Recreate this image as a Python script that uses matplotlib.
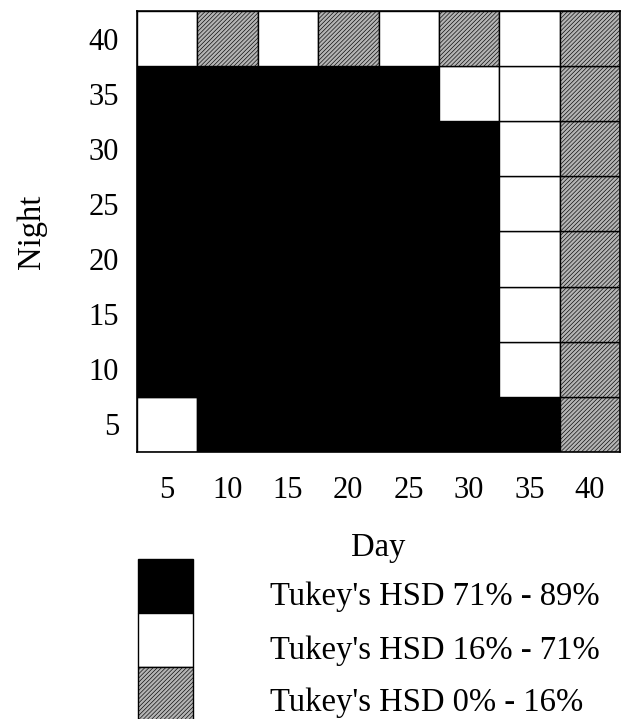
import numpy as np
import matplotlib
matplotlib.use('Agg')
import matplotlib.pyplot as plt
from matplotlib.patches import Rectangle

plt.rcParams['font.family'] = ['Liberation Serif', 'DejaVu Serif']
plt.rcParams['hatch.linewidth'] = 0.45

days = [5, 10, 15, 20, 25, 30, 35, 40]
nights = [5, 10, 15, 20, 25, 30, 35, 40]

# 0 = 71-89%, 1 = 16-71%, 2 = 0-16%  (rows are nights from 5 up to 40)
groups = [
    [1, 0, 0, 0, 0, 0, 0, 2],  # night 5
    [0, 0, 0, 0, 0, 0, 1, 2],  # night 10
    [0, 0, 0, 0, 0, 0, 1, 2],  # night 15
    [0, 0, 0, 0, 0, 0, 1, 2],  # night 20
    [0, 0, 0, 0, 0, 0, 1, 2],  # night 25
    [0, 0, 0, 0, 0, 0, 1, 2],  # night 30
    [0, 0, 0, 0, 0, 1, 1, 2],  # night 35
    [1, 2, 1, 2, 1, 2, 1, 2],  # night 40
]
labels = ["Tukey's HSD 71% - 89%", "Tukey's HSD 16% - 71%", "Tukey's HSD 0% - 16%"]

face = ['black', 'white', '#b4b4b4']
hatch = [None, None, '////////']

fig = plt.figure(figsize=(6.25, 7.19), dpi=100)
ax = fig.add_axes([137 / 625, 1 - 452 / 719, 483 / 625, 441 / 719])

for j, row in enumerate(groups):
    for i, g in enumerate(row):
        ax.bar(i, 1, bottom=j, width=1, align='edge', color=face[g],
               edgecolor='black', linewidth=1, hatch=hatch[g])

ax.set_xlim(0, len(days))
ax.set_ylim(0, len(nights))
ax.set_xticks(np.arange(len(days)) + 0.5)
ax.set_xticklabels(days)
ax.set_yticks(np.arange(len(nights)) + 0.5)
ax.set_yticklabels(nights)
ax.tick_params(length=0, labelsize=22)
ax.tick_params(axis='x', pad=17)
ax.tick_params(axis='y', pad=13)
ax.set_xlabel('Day', fontsize=23.5, labelpad=20)
ax.set_ylabel('Night', fontsize=23.5, labelpad=30)
for s in ax.spines.values():
    s.set_linewidth(1.2)

# legend drawn in pixel space
lax = fig.add_axes([0, 0, 1, 1])
lax.set_xlim(0, 625)
lax.set_ylim(719, 0)
lax.axis('off')
tops = [559, 613, 667]
baselines = [605, 659, 711]
for k in range(3):
    lax.add_patch(Rectangle((138, tops[k]), 55, 54, facecolor=face[k],
                            edgecolor='black', linewidth=1, hatch=hatch[k]))
    lax.text(270, baselines[k], labels[k], fontsize=23.5, va='baseline', ha='left')

fig.savefig('out.png', dpi=100)
